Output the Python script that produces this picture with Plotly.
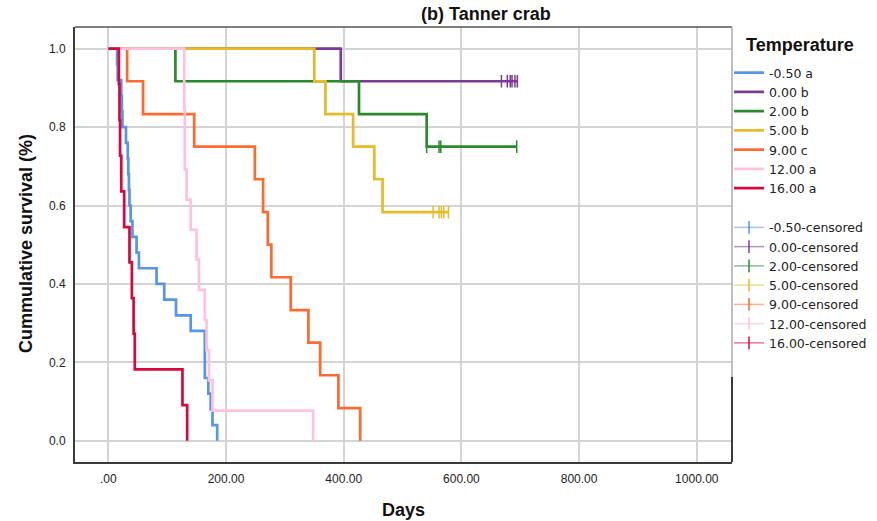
import plotly.graph_objects as go

# ---------------- data ----------------
groups = ["-0.50 a", "0.00 b", "2.00 b", "5.00 b", "9.00 c", "12.00 a", "16.00 a"]
censor_names = ["-0.50-censored", "0.00-censored", "2.00-censored", "5.00-censored",
                "9.00-censored", "12.00-censored", "16.00-censored"]
colors = ["#5597e6", "#7b3a96", "#2b8a2b", "#e8bb26", "#fd6a2f", "#ffc1de", "#d9083c"]
censor_line_colors = ["rgba(85,151,230,0.55)", "rgba(123,58,150,0.55)", "rgba(43,138,43,0.55)",
                      "rgba(232,187,38,0.55)", "rgba(253,106,47,0.55)", "rgba(255,193,222,0.7)",
                      "rgba(217,8,60,0.55)"]

# Kaplan-Meier step curves (day, cumulative survival after that day)
t_m050 = [0, 15, 16, 22, 23, 24, 30, 33, 34, 35, 36, 38, 41, 48, 52, 82, 95, 115, 140, 164, 170, 174, 177, 185]
s_m050 = [1, .96, .92, .88, .84, .80, .76, .72, .68, .64, .60, .56, .52, .48, .44, .40, .36, .32, .28, .16, .12, .08, .04, 0]

t_000 = [0, 395, 695]
s_000 = [1, .917, .917]

t_200 = [0, 114, 426, 541, 694]
s_200 = [1, .917, .833, .75, .75]

t_500 = [0, 350, 369, 416, 452, 466, 578]
s_500 = [1, .917, .833, .75, .667, .583, .583]

t_900 = [0, 32, 59, 146, 249, 263, 271, 277, 310, 340, 360, 391, 428]
s_900 = [1, .917, .833, .75, .667, .583, .5, .417, .333, .25, .167, .083, 0]

t_1200 = [0, 129, 129, 130, 130, 133, 140, 150, 154, 164, 167, 171, 177, 348]
s_1200 = [1, .923, .846, .769, .692, .615, .538, .462, .385, .308, .231, .154, .077, 0]

t_1600 = [0, 18, 19, 20, 22, 27, 36, 40, 43, 45, 126, 134]
s_1600 = [1, .909, .818, .727, .636, .545, .455, .364, .273, .182, .091, 0]

# censored observations (day, survival level)
c_t_000 = [668, 678, 683, 686, 691, 695]
c_s_000 = [.917, .917, .917, .917, .917, .917]
c_t_200 = [541, 562, 565, 694]
c_s_200 = [.75, .75, .75, .75]
c_t_500 = [552, 562, 566, 570, 578]
c_s_500 = [.583, .583, .583, .583, .583]

curve_t = [t_m050, t_000, t_200, t_500, t_900, t_1200, t_1600]
curve_s = [s_m050, s_000, s_200, s_500, s_900, s_1200, s_1600]
cens_t = [[None], c_t_000, c_t_200, c_t_500, [None], [None], [None]]
cens_s = [[None], c_s_000, c_s_200, c_s_500, [None], [None], [None]]

x_tickvals = [0, 200, 400, 600, 800, 1000]
x_ticktext = [".00", "200.00", "400.00", "600.00", "800.00", "1000.00"]
y_tickvals = [0, 0.2, 0.4, 0.6, 0.8, 1.0]
y_ticktext = ["0.0", "0.2", "0.4", "0.6", "0.8", "1.0"]

# ---------------- figure ----------------
fig = go.Figure()

# censored marks first (drawn underneath the curves)
for i in range(len(groups)):
    fig.add_trace(go.Scatter(
        x=cens_t[i], y=cens_s[i], name=censor_names[i], mode="lines+markers",
        line=dict(color=censor_line_colors[i], width=1.5),
        marker=dict(symbol="line-ns-open", size=9, color=colors[i],
                    line=dict(color=colors[i], width=1.5)),
        legendgroup="cens", legendrank=100 + i, hoverinfo="skip"))

for i in range(len(groups)):
    fig.add_trace(go.Scatter(
        x=curve_t[i], y=curve_s[i], name=groups[i], mode="lines",
        line=dict(color=colors[i], width=2.7, shape="hv"),
        legendgroup="main", legendrank=1 + i))

L, R, T, B = 75, 145, 27, 59
W, H = 877, 521
pw, ph = W - L - R, H - T - B

def px_x(px):
    return (px - L) / pw

def px_y(py):
    return (H - B - py) / ph

fig.update_layout(
    width=W, height=H,
    margin=dict(l=L, r=R, t=T, b=B, pad=0, autoexpand=False),
    paper_bgcolor="white", plot_bgcolor="white",
    font=dict(family="Liberation Sans, Arial, sans-serif", size=12, color="#222"),
    showlegend=True,
    legend=dict(x=px_x(729), y=px_y(58), xanchor="left", yanchor="top",
                traceorder="grouped", tracegroupgap=20,
                font=dict(family="DejaVu Sans, sans-serif", size=12.5, color="#222"),
                bgcolor="rgba(0,0,0,0)", borderwidth=0),
    xaxis=dict(range=[-56.6, 1059.8], tickvals=x_tickvals, ticktext=x_ticktext,
               showgrid=True, gridcolor="#d4d4d4", gridwidth=1.5, zeroline=False,
               showline=True, linecolor="#3a3a3a", linewidth=2,
               ticks="outside", ticklen=5, tickcolor="rgba(0,0,0,0)",
               tickfont=dict(family="Liberation Sans, Arial", size=12, color="#222")),
    yaxis=dict(range=[-0.0543, 1.0554], tickvals=y_tickvals, ticktext=y_ticktext,
               showgrid=True, gridcolor="#d4d4d4", gridwidth=1.5, zeroline=False,
               showline=True, linecolor="#3a3a3a", linewidth=2,
               ticks="outside", ticklen=5, tickcolor="rgba(0,0,0,0)",
               tickfont=dict(family="Liberation Sans, Arial", size=12, color="#222")),
    shapes=[
        dict(type="line", xref="paper", yref="paper", x0=0, x1=1, y0=1, y1=1,
             line=dict(color="#555555", width=1.5)),
        dict(type="line", xref="paper", yref="paper", x0=1, x1=1, y0=0, y1=px_y(376.7),
             line=dict(color="#3a3a3a", width=2)),
        dict(type="line", xref="paper", yref="paper", x0=1, x1=1, y0=px_y(376.7), y1=1,
             line=dict(color="#aaaaaa", width=1.5)),
    ],
    annotations=[
        dict(text="<b>(b) Tanner crab</b>", xref="paper", yref="paper",
             x=px_x(486), y=px_y(14.5), xanchor="center", yanchor="middle", showarrow=False,
             font=dict(family="Liberation Sans, Arial", size=18, color="#111")),
        dict(text="<b>Temperature</b>", xref="paper", yref="paper",
             x=px_x(800), y=px_y(45), xanchor="center", yanchor="middle", showarrow=False,
             font=dict(family="Liberation Sans, Arial", size=18, color="#111")),
        dict(text="<b>Days</b>", xref="paper", yref="paper",
             x=px_x(403), y=px_y(510), xanchor="center", yanchor="middle", showarrow=False,
             font=dict(family="Liberation Sans, Arial", size=18, color="#111")),
        dict(text="<b>Cummulative survival (%)</b>", xref="paper", yref="paper",
             x=px_x(26), y=px_y(244), xanchor="center", yanchor="middle", showarrow=False,
             textangle=-90,
             font=dict(family="Liberation Sans, Arial", size=18, color="#111")),
    ],
)

fig.write_html("out.html")
